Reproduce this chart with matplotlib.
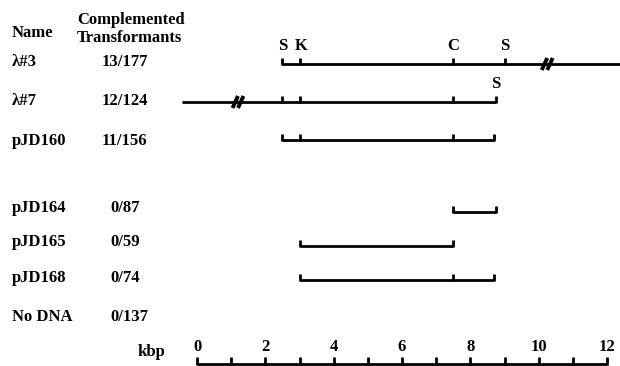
import matplotlib.pyplot as plt

plt.rcParams['font.family'] = ['Liberation Serif', 'DejaVu Serif']

# constructs and complementation results
names = ["λ#3", "λ#7", "pJD160", "pJD164", "pJD165", "pJD168", "No DNA"]
counts = ["13/177", "12/124", "11/156", "0/87", "0/59", "0/74", "0/137"]

# insert extent (kbp) per construct, None for no DNA
starts = [2.5, -0.45, 2.5, 7.5, 3.0, 3.0, None]
ends = [12.4, 8.75, 8.7, 8.75, 7.5, 8.7, None]

# restriction site ticks along each insert
sites = [
    [2.5, 3.0, 7.5, 9.0],
    [2.5, 3.0, 7.5, 8.75],
    [2.5, 3.0, 7.5, 8.7],
    [7.5, 8.75],
    [3.0, 7.5],
    [3.0, 7.5, 8.7],
    [],
]
# break marks (//) in the lambda clones
breaks = [10.25, 1.2, None, None, None, None, None]

# site letters: (row, kbp, letter)
site_labels = [(0, 2.5, "S"), (0, 3.05, "K"), (0, 7.5, "C"), (0, 9.0, "S"),
               (1, 8.75, "S")]

scale_ticks = list(range(0, 13))
scale_labels = [0, 2, 4, 6, 8, 10, 12]

# layout (y in pixels from top)
row_y = [64, 102, 140, 212, 246, 280, 317]
text_y = [62, 101, 141, 208, 242, 278, 317]
count_x = [102, 102, 102, 110, 110, 110, 110]

W, H = 620, 366
px0, px12 = 197, 607
ppk = (px12 - px0) / 12.0

fig = plt.figure(figsize=(W / 100, H / 100), dpi=100)
ax = fig.add_axes([0, 0, 1, 1])
ax.set_xlim(-px0 / ppk, (W - px0) / ppk)
ax.set_ylim(H, 0)
ax.axis('off')

def px(x):
    return (x - px0) / ppk

fs = 12
lw = 2.0
tick_h = 6

ax.text(px(12), 33, "Name", fontsize=fs, fontweight='bold', va='center', ha='left')
ax.text(px(77), 20, "Complemented", fontsize=fs, fontweight='bold', va='center', ha='left')
ax.text(px(77), 38, "Transformants", fontsize=fs, fontweight='bold', va='center', ha='left')

for i, name in enumerate(names):
    ax.text(px(12), text_y[i], name, fontsize=fs, fontweight='bold', va='center', ha='left')
    ax.text(px(count_x[i]), text_y[i], counts[i], fontsize=fs, fontweight='bold',
            va='center', ha='left')
    if starts[i] is None:
        continue
    y = row_y[i]
    ax.plot([starts[i], ends[i]], [y, y], color='black', lw=lw, solid_capstyle='butt')
    for s in sites[i]:
        ax.plot([s, s], [y + 0.8, y - tick_h], color='black', lw=lw, solid_capstyle='butt')
    if breaks[i] is not None:
        b = breaks[i]
        for off in (-0.08, 0.08):
            ax.plot([b + off - 0.08, b + off + 0.08], [y + 6, y - 6], color='black',
                    lw=2.8, solid_capstyle='butt')

for r, x, lab in site_labels:
    ax.text(x, row_y[r] - 18, lab, fontsize=fs, fontweight='bold', ha='center', va='center')

# scale bar
base = 364
ax.plot([0, 12], [base, base], color='black', lw=lw, solid_capstyle='butt')
for t in scale_ticks:
    ax.plot([t, t], [base + 0.8, base - 7], color='black', lw=lw, solid_capstyle='butt')
for t in scale_labels:
    ax.text(t, 347, str(t), fontsize=fs, fontweight='bold', ha='center', va='center')
ax.text(px(138), 352, "kbp", fontsize=fs, fontweight='bold', ha='left', va='center')

fig.savefig("out.png", dpi=100)
